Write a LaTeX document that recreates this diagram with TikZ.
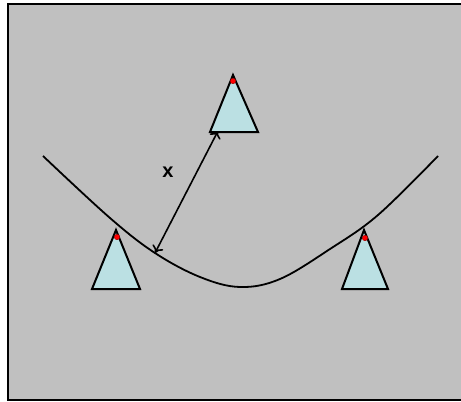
\documentclass[tikz,border=0pt]{standalone}
\usepackage{fontspec}
\setsansfont{Liberation Sans}
\usepackage{tikz}
\usetikzlibrary{arrows.meta}
\definecolor{panelgray}{HTML}{C0C0C0}
\definecolor{conecyan}{HTML}{BBE0E3}
\begin{document}
\begin{tikzpicture}[x=1pt, y=-1pt, >={To[length=7pt,width=12pt]},
  cone/.style={draw=black, line width=2pt, fill=conecyan, line join=miter},
  lamp/.style={circle, fill=red, draw=red!60!black, line width=0.4pt,
    inner sep=0pt, minimum size=5.5pt},
  bowl/.style={line width=1.8pt},
  dist/.style={<->, line width=1.6pt},
  lbl/.style={font=\fontsize{20}{24}\selectfont\sffamily\bfseries}]
\useasboundingbox (0,0) rectangle (461,402);
% the panel
\fill[panelgray] (8,4) rectangle (461,400);
\draw[line width=2.2pt] (461,4) -- (8,4) -- (8,400) -- (461,400);
% the hanging curve
\draw[bowl] plot[smooth, tension=0.6] coordinates {(43,156) (110,218)
  (155,253) (200,277) (240,287) (280,279) (330,249) (378,215) (438,156)};
% the three cones
\draw[cone] (233,75) -- (258,132) -- (210,132) -- cycle;
\draw[cone] (116,230) -- (140,289) -- (92,289) -- cycle;
\draw[cone] (364,230) -- (388,289) -- (342,289) -- cycle;
\node[lamp] (ltop) at (233,81) {};
\node[lamp] (lleft) at (117,237) {};
\node[lamp] (lright) at (365,238) {};
% the distance
\coordinate (foot) at (155,253);
\coordinate (base) at (218,131);
\draw[dist] (foot) -- (base);
\node[lbl] (x) at (168,172) {x};
\end{tikzpicture}
\end{document}
